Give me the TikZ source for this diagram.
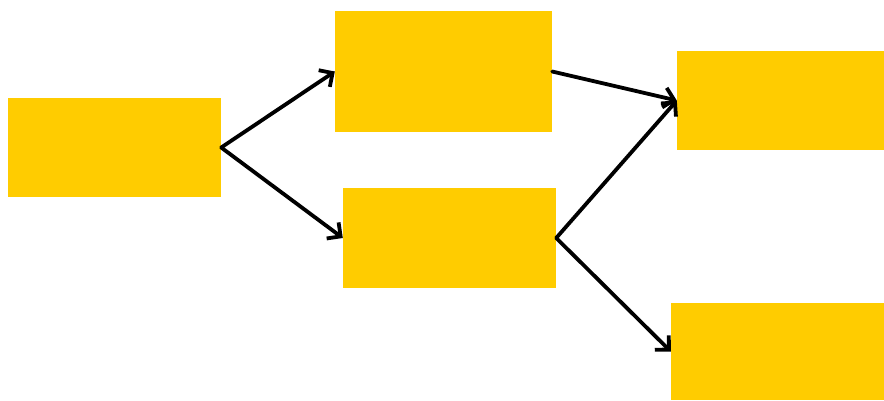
\documentclass[tikz,border=0pt]{standalone}
\usetikzlibrary{arrows.meta}
\definecolor{boxyellow}{HTML}{FFCC00}
\begin{document}
\begin{tikzpicture}[x=1pt,y=-1pt,
  ybox/.style={fill=boxyellow,draw=none,inner sep=0pt,minimum width=#1},
  conn/.style={line width=3.8pt,-{Straight Barb[length=10pt,width=20pt]},line cap=round}]
\useasboundingbox (0,0) rectangle (884,400);
\node[ybox=213pt,minimum height=99pt] (A) at (114.5,147.5) {};
\node[ybox=217pt,minimum height=121pt] (B) at (443.5,71.5) {};
\node[ybox=213pt,minimum height=100pt] (C) at (449.5,238) {};
\node[ybox=207pt,minimum height=99pt] (D) at (780.5,100.5) {};
\node[ybox=213pt,minimum height=97pt] (E) at (777.5,351.5) {};
\draw[conn] (A.east) -- (B.west);
\draw[conn] (A.east) -- (C.west);
\draw[conn] (B.east) -- (D.west);
\draw[conn] (C.east) -- (D.west);
\draw[conn] (C.east) -- (E.west);
\end{tikzpicture}
\end{document}
